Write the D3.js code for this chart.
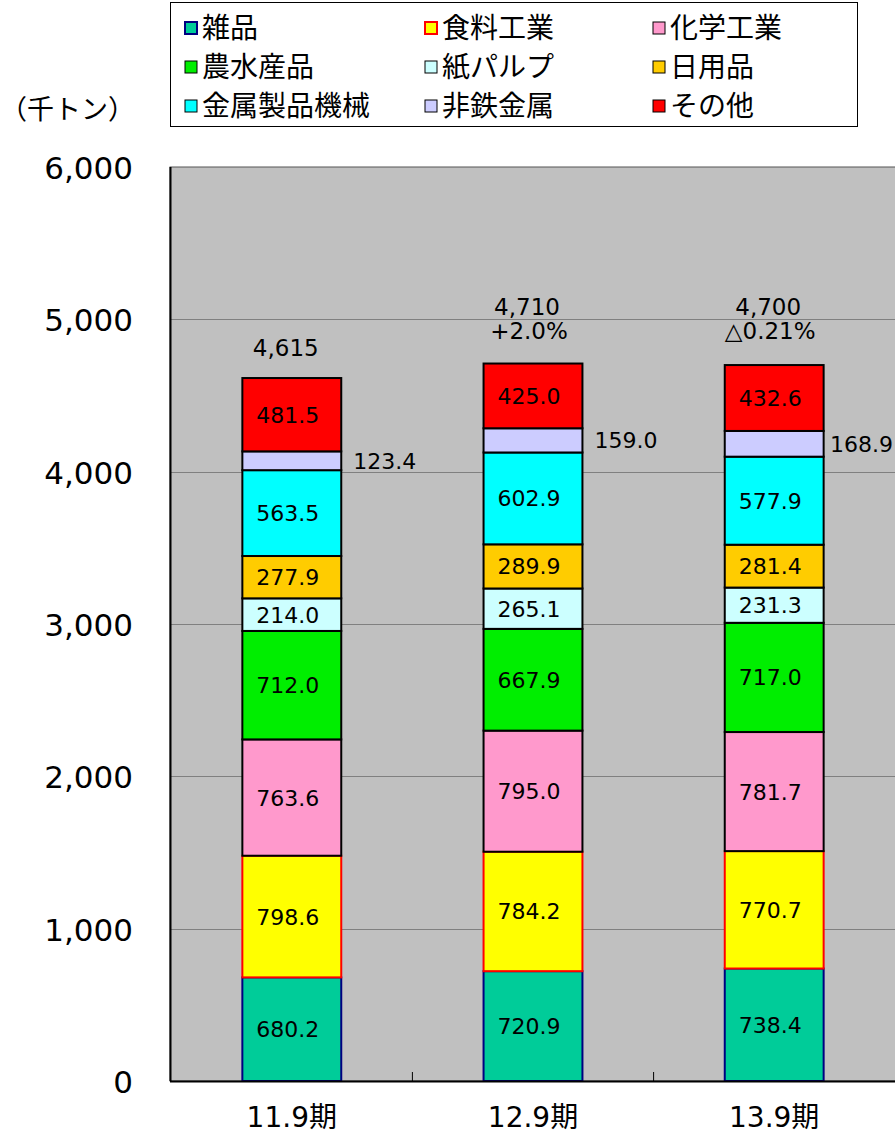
<!DOCTYPE html>
<html>
<head>
<meta charset="utf-8">
<script src="https://cdn.jsdelivr.net/npm/d3@7"></script>
<style>
  body { margin: 0; background: #fff; }
  svg { display: block; font-family: "DejaVu Sans", "Noto Sans CJK JP", sans-serif; }
</style>
</head>
<body>
<svg id="chart" width="895" height="1134"></svg>
<script>
// categories (periods) and series, bottom to top
var periods = ["11.9期", "12.9期", "13.9期"];
var seriesNames = ["雑品", "食料工業", "化学工業", "農水産品", "紙パルプ", "日用品", "金属製品機械", "非鉄金属", "その他"];

var v119 = [680.2, 798.6, 763.6, 712.0, 214.0, 277.9, 563.5, 123.4, 481.5];
var v129 = [720.9, 784.2, 795.0, 667.9, 265.1, 289.9, 602.9, 159.0, 425.0];
var v139 = [738.4, 770.7, 781.7, 717.0, 231.3, 281.4, 577.9, 168.9, 432.6];

var totals = ["4,615", "4,710", "4,700"];
var changes = ["", "+2.0%", "△0.21%"];
var yTicks = [0, 1000, 2000, 3000, 4000, 5000, 6000];

var fills = ["#00cc99", "#ffff00", "#ff99cc", "#00ee00", "#ccffff", "#ffcc00", "#00ffff", "#ccccff", "#ff0000"];
var strokes = ["#000080", "#ff0000", "#000", "#000", "#000", "#000", "#000", "#000", "#000"];

var allVals = [v119, v129, v139];
var rows = periods.map(function(p, i) {
  var r = { period: p };
  seriesNames.forEach(function(s, j) { r[s] = allVals[i][j]; });
  return r;
});

var svg = d3.select("#chart");
var W = 895;
var pLeft = 170, pRight = 896, pTop = 167, pBottom = 1081;

var x = d3.scaleBand().domain(periods).range([pLeft, pRight]).paddingInner(0.59).paddingOuter(0.30);
var y = d3.scaleLinear().domain([0, 6000]).range([pBottom, pTop]);

// plot background
svg.append("rect")
  .attr("x", pLeft).attr("y", pTop)
  .attr("width", pRight - pLeft).attr("height", pBottom - pTop)
  .attr("fill", "#c0c0c0").attr("stroke", "#555").attr("stroke-width", 1);

// gridlines
svg.append("g").selectAll("line").data(yTicks.filter(function(d) { return d > 0 && d < 6000; }))
  .join("line")
  .attr("x1", pLeft).attr("x2", pRight)
  .attr("y1", function(d) { return Math.round(y(d)) + 0.5; })
  .attr("y2", function(d) { return Math.round(y(d)) + 0.5; })
  .attr("stroke", "#808080").attr("stroke-width", 1);

// y tick labels
svg.append("g").selectAll("text").data(yTicks).join("text")
  .attr("x", 133).attr("y", function(d) { return y(d) + 12; })
  .attr("text-anchor", "end").attr("font-size", 31).attr("fill", "#000")
  .text(function(d) { return d3.format(",")(d); });

svg.append("text").attr("x", 0).attr("y", 119).attr("font-size", 27)
  .attr("font-family", "Noto Sans CJK JP").text("（千トン）");

// stacked bars
var stack = d3.stack().keys(seriesNames)(rows);

var layers = svg.append("g").selectAll("g").data(stack).join("g")
  .attr("fill", function(d, i) { return fills[i]; })
  .attr("stroke", function(d, i) { return strokes[i]; })
  .attr("stroke-width", 2);

layers.selectAll("rect").data(function(d) { return d; }).join("rect")
  .attr("x", function(d) { return x(d.data.period); })
  .attr("y", function(d) { return y(d[1]); })
  .attr("width", x.bandwidth())
  .attr("height", function(d) { return y(d[0]) - y(d[1]); });

// segment value labels
stack.forEach(function(layer, i) {
  var outside = seriesNames[i] === "非鉄金属";
  var t = svg.append("g").selectAll("text").data(layer).join("text")
    .attr("x", function(d) {
      return outside ? x(d.data.period) + x.bandwidth() + 12 : x(d.data.period) + x.bandwidth() / 2 - 4;
    })
    .attr("y", function(d) { return (y(d[0]) + y(d[1])) / 2 + 8; })
    .attr("text-anchor", outside ? "start" : "middle")
    .attr("font-size", 22).attr("fill", "#000")
    .text(function(d) { return (d[1] - d[0]).toFixed(1); });
  if (outside) {
    // keep outside labels inside the picture
    t.each(function() {
      var len = this.getComputedTextLength();
      var cx = +this.getAttribute("x");
      if (cx + len > W - 2) this.setAttribute("x", W - 2 - len);
    });
  }
});

// totals and change
svg.append("g").selectAll("text").data(periods).join("text")
  .attr("x", function(d) { return x(d) + x.bandwidth() / 2 - 6; })
  .attr("y", function(d, i) { return changes[i] ? 315 : 356; })
  .attr("text-anchor", "middle").attr("font-size", 23)
  .text(function(d, i) { return totals[i]; });

svg.append("g").selectAll("text").data(periods).join("text")
  .attr("x", function(d) { return x(d) + x.bandwidth() / 2 - 4; })
  .attr("y", 339)
  .attr("text-anchor", "middle").attr("font-size", 23)
  .text(function(d, i) { return changes[i]; });

// axes lines
svg.append("line").attr("x1", pLeft).attr("x2", pRight).attr("y1", pBottom + 0.5).attr("y2", pBottom + 0.5)
  .attr("stroke", "#000").attr("stroke-width", 2);
svg.append("line").attr("x1", pLeft + 0.5).attr("x2", pLeft + 0.5).attr("y1", pTop).attr("y2", pBottom)
  .attr("stroke", "#000").attr("stroke-width", 2);

// category separator ticks
svg.append("g").selectAll("line").data(periods.slice(1)).join("line")
  .attr("x1", function(d) { return x(d) - x.step() * x.paddingInner() / 2; })
  .attr("x2", function(d) { return x(d) - x.step() * x.paddingInner() / 2; })
  .attr("y1", pBottom - 9).attr("y2", pBottom)
  .attr("stroke", "#000").attr("stroke-width", 1);

// x labels
svg.append("g").selectAll("text").data(periods).join("text")
  .attr("x", function(d) { return x(d) + x.bandwidth() / 2; })
  .attr("y", 1127)
  .attr("text-anchor", "middle").attr("font-size", 28)
  .text(function(d) { return d; });

// legend
var legend = svg.append("g");
legend.append("rect").attr("x", 170.5).attr("y", 2.5).attr("width", 687).attr("height", 124)
  .attr("fill", "#fff").attr("stroke", "#000").attr("stroke-width", 1);

var colX = [185, 425, 653], rowY = [28, 67, 106];
var items = legend.selectAll("g").data(seriesNames).join("g")
  .attr("transform", function(d, i) { return "translate(" + colX[i % 3] + "," + rowY[Math.floor(i / 3)] + ")"; });
items.append("rect")
  .attr("x", 0).attr("y", -6).attr("width", 12).attr("height", 12)
  .attr("fill", function(d, i) { return fills[i]; })
  .attr("stroke", function(d, i) { return strokes[i]; })
  .attr("stroke-width", function(d, i) { return i < 2 ? 2 : 1; });
items.append("text").attr("x", 17).attr("y", 10).attr("font-size", 28)
  .attr("font-family", "Noto Sans CJK JP")
  .text(function(d) { return d; });
</script>
</body>
</html>
